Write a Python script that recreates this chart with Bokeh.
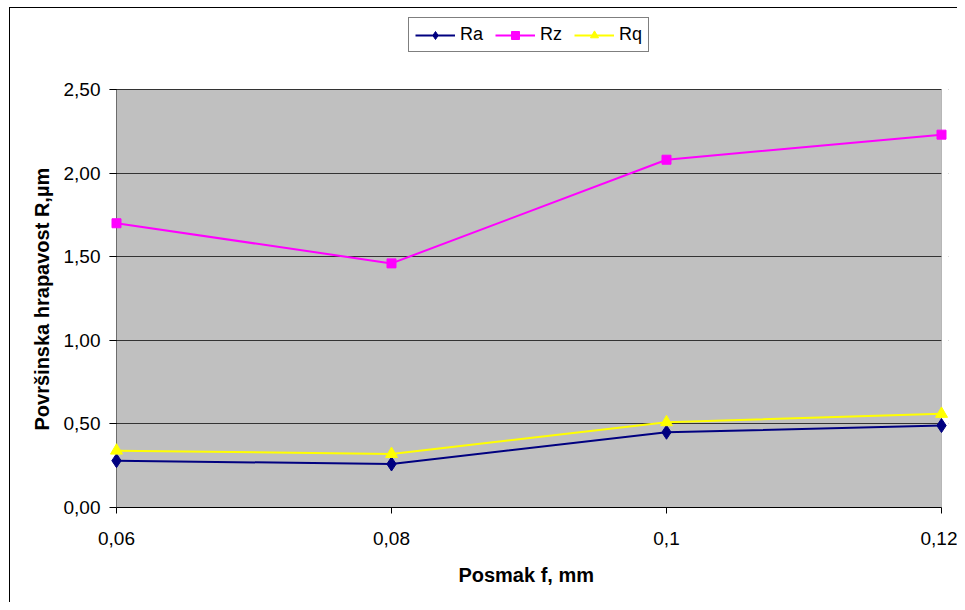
from bokeh.plotting import figure
from bokeh.models import Range1d, FixedTicker, Legend, LegendItem, BoxAnnotation, Title
from bokeh.embed import file_html
from bokeh.resources import INLINE

feed = [0.06, 0.08, 0.1, 0.12]
feed_labels = ["0,06", "0,08", "0,1", "0,12"]
ra = [0.28, 0.26, 0.45, 0.49]
rz = [1.70, 1.46, 2.08, 2.23]
rq = [0.34, 0.32, 0.51, 0.56]
y_ticks = [0.0, 0.5, 1.0, 1.5, 2.0, 2.5]
y_tick_labels = ["0,00", "0,50", "1,00", "1,50", "2,00", "2,50"]

FONT = "Liberation Sans"

# layout (px): plot area x 116..941, y 89..507; frame a bit larger so that edge markers are not cut
W, H = 957, 602
AREA_L, AREA_R, AREA_T, AREA_B = 116, 941, 89, 507
PAD = 7
FRAME_T = 10
y_max = 2.5 * (AREA_B - FRAME_T) / (AREA_B - AREA_T)
xpad = (feed[-1] - feed[0]) * PAD / (AREA_R - AREA_L)

p = figure(width=W, height=H, output_backend="svg", toolbar_location=None,
           x_range=Range1d(feed[0] - xpad, feed[-1] + xpad), y_range=Range1d(0, y_max),
           min_border_left=AREA_L - PAD, min_border_right=W - AREA_R - PAD,
           min_border_top=FRAME_T, min_border_bottom=H - AREA_B,
           background_fill_color="white", border_fill_color="white")
p.border_fill_alpha = 0
p.background_fill_alpha = 0
p.styles = {
    "background": ("linear-gradient(#000,#000) 9px 7px / 1px 100% no-repeat, "
                   "linear-gradient(#000,#000) 9px 7px / 100% 1px no-repeat, #fff"),
}
p.outline_line_color = None

# plot area (grey)
area = BoxAnnotation(left=feed[0], right=feed[-1], bottom=0, top=2.5,
                     fill_color="#C0C0C0", fill_alpha=1,
                     line_color=None, level="image")
p.add_layout(area)

# grid
p.xgrid.visible = False
p.ygrid.ticker = FixedTicker(ticks=y_ticks)
p.ygrid.grid_line_color = "#333333"
p.ygrid.grid_line_width = 1

# hide the grid stubs right of the plot area, then draw area edges
stub_mask = BoxAnnotation(left=feed[-1], fill_color="white", fill_alpha=1,
                          line_color=None, level="underlay")
p.add_layout(stub_mask)
right_edge = BoxAnnotation(left=feed[-1], right=feed[-1], bottom=0, top=2.5,
                           fill_alpha=0, line_color="#808080", line_width=1, level="underlay")
p.add_layout(right_edge)
left_edge = BoxAnnotation(left=feed[0], right=feed[0], bottom=0, top=2.5,
                          fill_alpha=0, line_color="black", line_width=1, level="underlay")
p.add_layout(left_edge)

# axes
p.xaxis.ticker = FixedTicker(ticks=feed)
p.xaxis.major_label_overrides = {v: s for v, s in zip(feed, feed_labels)}
p.xaxis.bounds = (feed[0], feed[-1])
p.yaxis.ticker = FixedTicker(ticks=y_ticks)
p.yaxis.major_label_overrides = {v: s for v, s in zip(y_ticks, y_tick_labels)}
p.yaxis.bounds = (0, 2.5)
for ax in (p.xaxis, p.yaxis):
    ax.axis_line_color = "black"
    ax.major_tick_line_color = "black"
    ax.minor_tick_line_color = None
    ax.major_label_text_font = FONT
    ax.major_label_text_font_size = "19px"
    ax.major_label_text_color = "black"
    ax.axis_label_text_font = FONT
    ax.axis_label_text_font_size = "20px"
    ax.axis_label_text_font_style = "bold"
    ax.axis_label_text_color = "black"
p.xaxis.major_tick_in = 0
p.xaxis.major_tick_out = 6
p.xaxis.major_label_standoff = 18
p.xaxis.axis_label = "Posmak  f, mm"
p.xaxis.axis_label_standoff = 16

p.yaxis.axis_line_color = None
p.yaxis.major_tick_in = PAD
p.yaxis.major_tick_out = 0
p.yaxis.major_label_standoff = 9

ytitle = Title(text="Površinska hrapavost R,µm", align="left", offset=77, standoff=16,
               text_font=FONT, text_font_size="20px", text_font_style="bold",
               text_color="black")
p.add_layout(ytitle, "left")

# series
l_ra = p.line(feed, ra, line_color="#000080", line_width=2)
m_ra = p.scatter(feed, ra, marker="diamond", size=14, fill_color="#000080", line_color="#000080")
l_rz = p.line(feed, rz, line_color="#FF00FF", line_width=2)
m_rz = p.scatter(feed, rz, marker="square", size=9, fill_color="#FF00FF", line_color="#FF00FF")
l_rq = p.line(feed, rq, line_color="#FFFF00", line_width=2)
m_rq = p.scatter(feed, rq, marker="triangle", size=12, fill_color="#FFFF00", line_color="#FFFF00")

legend = Legend(items=[
    LegendItem(label="Ra", renderers=[l_ra, m_ra]),
    LegendItem(label="Rz", renderers=[l_rz, m_rz]),
    LegendItem(label="Rq", renderers=[l_rq, m_rq]),
], orientation="horizontal", location=(408 - (AREA_L - PAD), AREA_B - 52))
legend.label_text_font = FONT
legend.label_text_font_size = "18px"
legend.label_text_color = "black"
legend.glyph_width = 40
legend.glyph_height = 20
legend.label_standoff = 5
legend.spacing = 12
legend.padding = 6
legend.margin = 0
legend.border_line_color = "black"
legend.border_line_width = 1
legend.background_fill_color = "white"
legend.background_fill_alpha = 1
p.add_layout(legend, "center")

open("out.html", "w").write(file_html(p, INLINE))
